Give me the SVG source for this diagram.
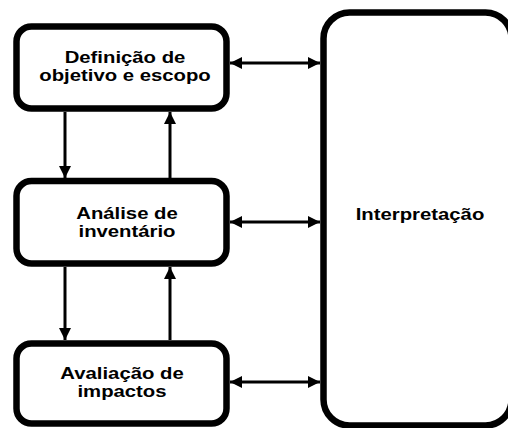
<svg xmlns="http://www.w3.org/2000/svg" width="508" height="428" viewBox="0 0 508 428">
<style>
.box{fill:#fff;stroke:#000;stroke-width:6.5}
.lbl{font-family:"Liberation Sans",Arial,sans-serif;font-weight:bold;font-size:16px;fill:#000;text-anchor:middle}
.con{stroke:#000;stroke-width:3;fill:none}
</style>
<defs>
<marker id="ah" viewBox="0 0 12 12" refX="12" refY="6" markerWidth="12" markerHeight="12" markerUnits="userSpaceOnUse" orient="auto-start-reverse">
<path d="M0,0 L12,6 L0,12 Z" fill="#000"/>
</marker>
</defs>
<rect width="508" height="428" fill="#fff"/>
<g id="interpretacao">
<rect class="box" x="323.5" y="12.5" width="188" height="413" rx="26"/>
<g transform="translate(420,0) scale(1.27,1)"><text class="lbl" x="0" y="220">Interpretação</text></g>
</g>
<g id="definicao">
<rect class="box" x="16.5" y="26.5" width="210" height="82" rx="15"/>
<g transform="translate(125,0) scale(1.27,1)">
<text class="lbl" x="0" y="63">Definição de</text>
<text class="lbl" x="0" y="81">objetivo e escopo</text>
</g>
</g>
<g id="analise">
<rect class="box" x="16.5" y="181" width="210" height="82.5" rx="15"/>
<g transform="translate(127,0) scale(1.27,1)">
<text class="lbl" x="0" y="219">Análise de</text>
<text class="lbl" x="0" y="237">inventário</text>
</g>
</g>
<g id="avaliacao">
<rect class="box" x="16.5" y="343.5" width="210" height="80" rx="15"/>
<g transform="translate(122,0) scale(1.27,1)">
<text class="lbl" x="0" y="379">Avaliação de</text>
<text class="lbl" x="0" y="397">impactos</text>
</g>
</g>
<g id="connectors">
<line class="con" x1="230" y1="63" x2="320" y2="63" marker-start="url(#ah)" marker-end="url(#ah)"/>
<line class="con" x1="230" y1="222" x2="320" y2="222" marker-start="url(#ah)" marker-end="url(#ah)"/>
<line class="con" x1="230" y1="382" x2="320" y2="382" marker-start="url(#ah)" marker-end="url(#ah)"/>
<line class="con" x1="65" y1="112" x2="65" y2="178" marker-end="url(#ah)"/>
<line class="con" x1="170" y1="178" x2="170" y2="112" marker-end="url(#ah)"/>
<line class="con" x1="65" y1="267" x2="65" y2="340" marker-end="url(#ah)"/>
<line class="con" x1="170" y1="340" x2="170" y2="267" marker-end="url(#ah)"/>
</g>
</svg>
